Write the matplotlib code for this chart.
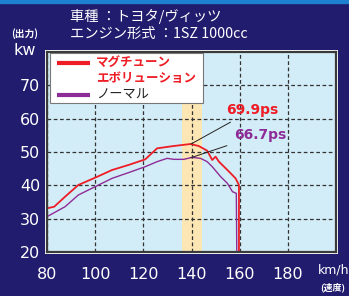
import matplotlib
matplotlib.use('Agg')
import matplotlib.pyplot as plt
from matplotlib.patches import Rectangle

plt.rcParams['font.family'] = ['Noto Sans CJK JP', 'DejaVu Sans']

# data (km/h, kW)
speed_tuned = [80, 83, 87.5, 93, 100, 107, 113.8, 120.8, 125.7, 132.6, 139.6, 143, 146.5,
               148.6, 150, 151.4, 154.9, 158.3, 159.7, 159.7]
power_tuned = [33.1, 33.6, 36.6, 40.1, 42.3, 44.6, 46.1, 47.8, 51.1, 51.8, 52.4, 51.8, 50.4,
               47.6, 48.6, 47.1, 44.6, 42.1, 40.1, 20]
speed_normal = [80, 87.5, 93, 100, 107, 113.8, 120.8, 125.7, 129.9, 132.6, 136.8, 140.3, 143.75,
                146.5, 148.6, 152.1, 154.9, 157, 158.6, 158.8]
power_normal = [30.6, 33.6, 37.1, 39.6, 42.1, 43.8, 45.6, 47.1, 48.1, 47.8, 47.8, 48.4, 48.1,
                47.1, 45.6, 42.6, 40.6, 38.1, 37.6, 20]
peak_speed = 139.8
peak_tuned = 52.4
peak_normal = 48.3
label_tuned = '69.9ps'
label_normal = '66.7ps'
band = (136, 144.5)
xticks = [80, 100, 120, 140, 160, 180]
yticks = [20, 30, 40, 50, 60, 70]

navy = '#221C6E'
red = '#EE1C25'
purple = '#8E2C97'

fig = plt.figure(figsize=(3.49, 2.96), dpi=100, facecolor=navy)
fig.patches.append(Rectangle((0, 0.99), 1, 0.01, transform=fig.transFigure,
                             color='#1E80D0', zorder=0))
# white outer border behind the plot
fig.patches.append(Rectangle((0.1347 - 0.006, 0.1486 - 0.007), 0.8281 + 0.012, 0.6757 + 0.014,
                             transform=fig.transFigure, facecolor='white', edgecolor='none',
                             zorder=0))
ax = fig.add_axes([0.1347, 0.1486, 0.8281, 0.6757])
ax.set_zorder(2)
ax.set_facecolor('#D3EDF8')

ax.axvspan(band[0], band[1], color='#FBE6B4', zorder=1, lw=0)
ax.plot(speed_normal, power_normal, color=purple, lw=1.0, zorder=3)
ax.plot(speed_tuned, power_tuned, color=red, lw=1.3, zorder=4)

ax.set_xlim(80, 200)
ax.set_ylim(20, 80)
ax.set_xticks(xticks)
ax.set_yticks(yticks)
ax.grid(True, color='#333333', ls=(0, (3, 2)), lw=0.9)
for gl in ax.get_xgridlines() + ax.get_ygridlines():
    gl.set_zorder(2)
ax.tick_params(length=0, colors='white', labelsize=11.5, pad=5)
ax.tick_params(axis='x', pad=11)
for lab in ax.get_xticklabels() + ax.get_yticklabels():
    lab.set_family(['DejaVu Sans'])
for s in ax.spines.values():
    s.set_color('#3A3A3A')
    s.set_linewidth(1.6)
    s.set_zorder(6)

# peak labels
ax.annotate(label_tuned, xy=(peak_speed, peak_tuned), xytext=(154.2, 62.5),
            color=red, fontsize=10, fontweight='bold', va='center', ha='left',
            family=['DejaVu Sans'],
            arrowprops=dict(arrowstyle='-', color='#222222', lw=0.7, shrinkB=0, shrinkA=3),
            zorder=7)
ax.annotate(label_normal, xy=(peak_speed, peak_normal), xytext=(157.5, 55.2),
            color=purple, fontsize=10, fontweight='bold', va='center', ha='left',
            family=['DejaVu Sans'],
            arrowprops=dict(arrowstyle='-', color='#222222', lw=0.7, shrinkB=0, shrinkA=3),
            zorder=7)

# legend box
ax.add_patch(Rectangle((81.2, 64.8), 63.5, 14.9, facecolor='white', edgecolor='#777777',
                       lw=0.8, zorder=8))
ax.plot([84.2, 97.8], [76.8, 76.8], color=red, lw=3, zorder=9, solid_capstyle='butt')
ax.plot([84.2, 97.8], [67.1, 67.1], color=purple, lw=3, zorder=9, solid_capstyle='butt')
ax.text(100.4, 76.8, 'マグチューン', color=red, fontsize=9, fontweight='bold',
        va='center', ha='left', zorder=9)
ax.text(100.4, 72.2, 'エボリューション', color=red, fontsize=9, fontweight='bold',
        va='center', ha='left', zorder=9)
ax.text(100.4, 67.1, 'ノーマル', color='#222222', fontsize=9.5, va='center', ha='left', zorder=9)

# header texts
fig.text(0.2, 0.944, '車種 ：トヨタ/ヴィッツ', color='white', fontsize=10.3, va='center', ha='left')
fig.text(0.2, 0.885, 'エンジン形式 ：1SZ 1000cc', color='white', fontsize=10.3, va='center', ha='left')
fig.text(0.07, 0.885, '(出力)', color='white', fontsize=7, fontweight='bold', va='center', ha='center')
fig.text(0.07, 0.83, 'kw', color='white', fontsize=11.5, va='center', ha='center',
         family=['DejaVu Sans'])
fig.text(0.912, 0.088, 'km/h', color='white', fontsize=9, va='center', ha='left',
         family=['DejaVu Sans'])
fig.text(0.918, 0.028, '(速度)', color='white', fontsize=6.5, fontweight='bold', va='center', ha='left')

fig.savefig('out.png', dpi=100, facecolor=navy)
